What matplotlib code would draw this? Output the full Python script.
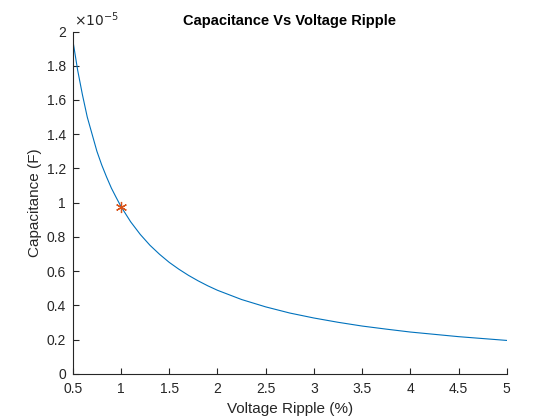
import numpy as np
import matplotlib
matplotlib.use("Agg")
from matplotlib import pyplot as plt
from matplotlib.ticker import FuncFormatter

plt.rcParams['font.family'] = ['Liberation Sans', 'DejaVu Sans']

# 값은 그림에서 읽은 추정치 (단위: 1e-5 F)
ripple = [0.5, 0.55, 0.6, 0.65, 0.7, 0.75, 0.8, 0.85, 0.9, 0.95, 1.0,
          1.1, 1.2, 1.3, 1.4, 1.5, 1.6, 1.7, 1.8, 1.9, 2.0, 2.25, 2.5,
          2.75, 3.0, 3.25, 3.5, 3.75, 4.0, 4.5, 5.0]
cap_e5 = [1.95, 1.775, 1.63, 1.50, 1.40, 1.30, 1.22, 1.15, 1.085, 1.03,
          0.977, 0.888, 0.814, 0.751, 0.698, 0.651, 0.611, 0.575, 0.543,
          0.514, 0.488, 0.434, 0.391, 0.355, 0.326, 0.301, 0.279, 0.261,
          0.244, 0.217, 0.195]
chosen_ripple = [1.0]
chosen_cap_e5 = [0.977]

cap = np.array(cap_e5) * 1e-5
chosen_cap = np.array(chosen_cap_e5) * 1e-5

dark = '#262626'

fig = plt.figure(figsize=(5.6, 4.2), dpi=100)
ax = fig.add_axes([0.13, 0.11, 0.775, 0.815])

ax.plot(ripple, cap, color='#0072BD', linewidth=0.8)
ax.plot(chosen_ripple, chosen_cap, linestyle='none', marker=(6, 2, 0),
        markersize=8, markeredgewidth=0.9, color='#D95319')

ax.set_xlim(0.5, 5)
ax.set_ylim(0, 2e-5)
ax.set_xticks(np.arange(0.5, 5.01, 0.5))
ax.set_yticks(np.arange(0, 2.01e-5, 0.2e-5))
ax.xaxis.set_major_formatter(FuncFormatter(lambda v, p: '%g' % v))
ax.yaxis.set_major_formatter(FuncFormatter(lambda v, p: '%g' % round(v / 1e-5, 6)))

for side in ['top', 'right']:
    ax.spines[side].set_visible(False)
for side in ['left', 'bottom']:
    ax.spines[side].set_color(dark)
    ax.spines[side].set_linewidth(0.8)
ax.tick_params(direction='in', length=4, width=0.8, colors=dark,
               labelsize=10)
ax.tick_params(axis='x', pad=6)
ax.tick_params(axis='y', pad=5)

ax.text(0.003, 1.008, r'$\times10^{-5}$', transform=ax.transAxes,
        fontsize=10, color=dark, ha='left', va='bottom')

ax.set_title('Capacitance Vs Voltage Ripple', fontsize=10.5,
             fontweight='bold', color='black', pad=5)
ax.set_xlabel('Voltage Ripple (%)', fontsize=11, color=dark, labelpad=4)
ax.set_ylabel('Capacitance (F)', fontsize=11, color=dark, labelpad=3)

plt.savefig('out.png', dpi=100)
